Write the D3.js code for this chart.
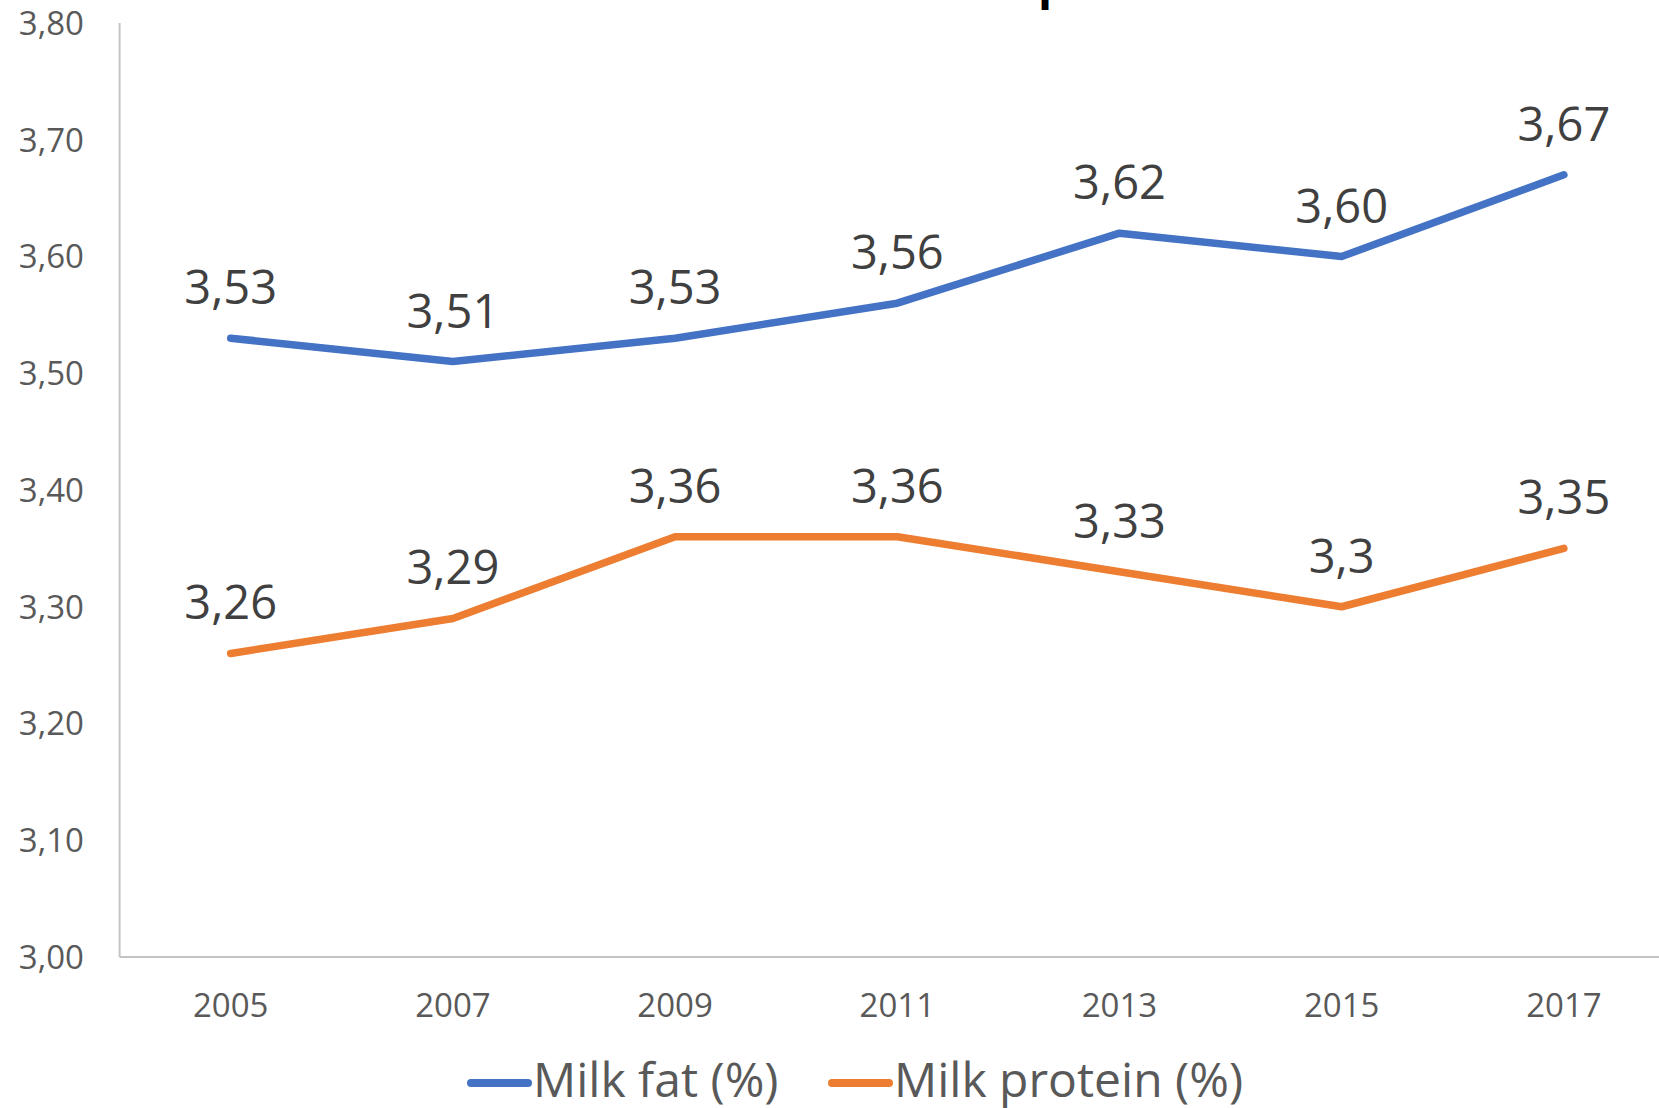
<!DOCTYPE html>
<html lang="en">
<head>
    <meta charset="UTF-8">
    <title>Milk fat and protein</title>
    <script src="https://d3js.org/d3.v7.min.js"></script>
    <style>
        body { margin: 0; background: #fff; overflow: hidden; }
        svg { display: block; font-family: "Open Sans", sans-serif; }
    </style>
</head>
<body>
<div id="chart"></div>
<script>
    const years = ["2005", "2007", "2009", "2011", "2013", "2015", "2017"];
    const milkFat = [3.53, 3.51, 3.53, 3.56, 3.62, 3.60, 3.67];
    const milkProtein = [3.26, 3.29, 3.36, 3.36, 3.33, 3.30, 3.35];
    const fatLabels = ["3,53", "3,51", "3,53", "3,56", "3,62", "3,60", "3,67"];
    const proteinLabels = ["3,26", "3,29", "3,36", "3,36", "3,33", "3,3", "3,35"];
    const yTicks = [3.0, 3.1, 3.2, 3.3, 3.4, 3.5, 3.6, 3.7, 3.8];
    const seriesNames = ["Milk fat (%)", "Milk protein (%)"];
    const colors = ["#4472C4", "#ED7D31"];

    const width = 1659, height = 1108;
    const plotLeft = 119.6, plotRight = 1675, plotTop = 23, plotBottom = 957;

    const svg = d3.select("#chart").append("svg")
        .attr("width", width)
        .attr("height", height);

    // title sits mostly above the visible area, only a descender shows
    const title = svg.append("text")
        .attr("font-weight", "bold")
        .attr("font-size", 46)
        .attr("fill", "#000")
        .attr("y", -1)
        .text("Milk fat and protein");
    const pIdx = title.text().indexOf("p");
    let before = 0;
    try { before = title.node().getSubStringLength(0, pIdx); } catch (e) { before = 400; }
    title.attr("x", 1038 - before);

    const x = d3.scaleBand().domain(years).range([plotLeft, plotRight]).padding(0);
    const y = d3.scaleLinear().domain([3, 3.8]).range([plotBottom, plotTop]);
    const cx = d => x(d) + x.bandwidth() / 2;

    // axis lines
    svg.append("line")
        .attr("x1", plotLeft).attr("x2", plotLeft)
        .attr("y1", y(3.8)).attr("y2", plotBottom)
        .attr("stroke", "#c4c4c4").attr("stroke-width", 2);
    svg.append("line")
        .attr("x1", plotLeft).attr("x2", width)
        .attr("y1", plotBottom).attr("y2", plotBottom)
        .attr("stroke", "#c4c4c4").attr("stroke-width", 2);

    svg.selectAll(".ytick")
        .data(yTicks)
        .enter().append("text")
        .attr("class", "ytick")
        .attr("x", 84)
        .attr("y", d => y(d))
        .attr("dy", "0.36em")
        .attr("text-anchor", "end")
        .attr("font-size", 33)
        .attr("fill", "#595959")
        .text(d => d3.format(".2f")(d).replace(".", ","));

    svg.selectAll(".xtick")
        .data(years)
        .enter().append("text")
        .attr("class", "xtick")
        .attr("x", d => cx(d))
        .attr("y", 1017)
        .attr("text-anchor", "middle")
        .attr("font-size", 33)
        .attr("fill", "#595959")
        .text(d => d);

    const series = [
        { values: milkFat, labels: fatLabels, color: colors[0] },
        { values: milkProtein, labels: proteinLabels, color: colors[1] }
    ];

    const line = d3.line()
        .x((d, i) => cx(years[i]))
        .y(d => y(d));

    series.forEach(s => {
        svg.append("path")
            .datum(s.values)
            .attr("d", line)
            .attr("fill", "none")
            .attr("stroke", s.color)
            .attr("stroke-width", 7.5)
            .attr("stroke-linecap", "round")
            .attr("stroke-linejoin", "round");

        svg.selectAll(null)
            .data(s.values)
            .enter().append("text")
            .attr("x", (d, i) => cx(years[i]))
            .attr("y", d => y(d) - 34)
            .attr("text-anchor", "middle")
            .attr("font-size", 47)
            .attr("fill", "#404040")
            .text((d, i) => s.labels[i]);
    });

    // legend
    const legendX = [471, 832];
    seriesNames.forEach((name, i) => {
        svg.append("line")
            .attr("x1", legendX[i]).attr("x2", legendX[i] + 57)
            .attr("y1", 1083).attr("y2", 1083)
            .attr("stroke", colors[i])
            .attr("stroke-width", 8)
            .attr("stroke-linecap", "round");
        svg.append("text")
            .attr("x", legendX[i] + 62)
            .attr("y", 1097)
            .attr("font-size", 48)
            .attr("fill", "#595959")
            .text(name);
    });
</script>
</body>
</html>
